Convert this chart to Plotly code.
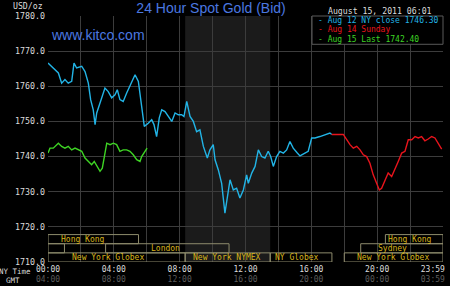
import plotly.graph_objects as go

# ---- data (hours after 00:00 NY time, USD/oz) ----
aug12_t = [0.0, 0.32, 0.63, 0.83, 1.03, 1.23, 1.44, 1.58, 1.74, 2.05, 2.25, 2.45, 2.59, 2.75, 2.86, 2.96,
           3.16, 3.46, 3.66, 3.87, 4.07, 4.21, 4.37, 4.57, 4.78, 5.02, 5.29, 5.49, 5.63, 5.75, 5.85, 6.09,
           6.30, 6.44, 6.60, 6.76, 6.91, 7.11, 7.31, 7.52, 7.72, 7.92, 8.12, 8.26, 8.43, 8.63, 8.83, 9.03,
           9.23, 9.44, 9.68, 9.84, 10.04, 10.15, 10.35, 10.55, 10.75, 10.89, 11.06, 11.26, 11.46, 11.66,
           11.87, 12.07, 12.17, 12.38, 12.58, 12.78, 12.98, 13.18, 13.38, 13.53, 13.69, 13.89, 14.09, 14.30,
           14.50, 14.70, 14.90, 15.15, 15.31, 15.61, 15.81, 16.02, 16.22, 16.52, 16.83, 17.13, 17.24]
aug12_v = [1766.6, 1765.2, 1763.8, 1760.9, 1761.9, 1760.9, 1761.4, 1766.6, 1765.2, 1765.7, 1764.2, 1760.9,
           1756.2, 1753.3, 1749.1, 1752.4, 1755.2, 1759.5, 1758.5, 1756.7, 1757.6, 1759.0, 1756.2, 1755.7,
           1758.1, 1760.5, 1763.3, 1761.4, 1756.2, 1751.0, 1748.6, 1749.5, 1750.5, 1749.1, 1745.7, 1751.0,
           1753.3, 1752.8, 1751.4, 1750.0, 1752.4, 1751.9, 1751.9, 1751.4, 1755.7, 1751.4, 1750.0, 1747.1,
           1747.6, 1742.9, 1739.6, 1741.9, 1743.4, 1739.1, 1736.2, 1732.4, 1723.9, 1727.7, 1733.4, 1730.5,
           1731.0, 1728.2, 1730.5, 1734.8, 1732.4, 1735.3, 1737.2, 1741.9, 1740.0, 1739.6, 1741.5, 1740.0,
           1737.2, 1740.0, 1741.5, 1741.0, 1741.9, 1744.3, 1742.4, 1741.0, 1740.2, 1741.0, 1741.5, 1745.3,
           1745.3, 1745.7, 1746.2, 1746.7, 1746.3]

aug14_t = [17.24, 17.94, 18.15, 18.35, 18.55, 18.76, 18.96, 19.16, 19.36, 19.56, 19.76, 19.97, 20.13, 20.27,
           20.47, 20.67, 20.88, 21.08, 21.28, 21.49, 21.69, 21.89, 22.10, 22.30, 22.50, 22.70, 22.90, 23.10,
           23.31, 23.51, 23.71, 23.92]
aug14_v = [1746.3, 1746.3, 1744.8, 1743.4, 1742.4, 1742.9, 1741.9, 1740.5, 1740.0, 1738.1, 1734.8, 1732.4,
           1730.5, 1731.0, 1733.4, 1735.3, 1734.3, 1736.7, 1738.6, 1741.0, 1741.5, 1744.8, 1744.8, 1745.7,
           1745.3, 1745.7, 1744.5, 1745.0, 1745.7, 1745.3, 1743.8, 1742.1]

aug15_t = [0.0, 0.12, 0.32, 0.63, 0.83, 1.03, 1.23, 1.44, 1.64, 1.84, 2.05, 2.25, 2.45, 2.65, 2.81, 3.02,
           3.16, 3.30, 3.46, 3.57, 3.77, 3.97, 4.17, 4.37, 4.57, 4.78, 4.98, 5.18, 5.39, 5.59, 5.69, 5.85, 6.02]
aug15_v = [1741.0, 1742.4, 1742.4, 1743.8, 1742.9, 1742.4, 1742.9, 1741.9, 1742.4, 1741.9, 1741.5, 1739.6,
           1738.6, 1737.7, 1738.6, 1736.7, 1735.8, 1736.7, 1741.0, 1743.8, 1743.4, 1743.8, 1743.4, 1741.5,
           1741.9, 1741.9, 1741.5, 1740.5, 1739.1, 1738.6, 1740.0, 1741.0, 1742.4]

series_names = ["Aug 12 NY close 1746.30", "Aug 14 Sunday", "Aug 15 Last 1742.40"]
series_colors = ["#22b4e6", "#e8141c", "#3ed424"]

# trading sessions: name, start hour, end hour, row (0 = bottom), label hour
sess_names = ["Hong Kong", "", "London", "New York Globex", "New York NYMEX", "NY Globex",
              "New York Globex", "Sydney", "Hong Kong"]
sess_start = [0.0, 0.0, 3.5, 0.0, 8.333, 13.5, 18.0, 19.0, 20.5]
sess_end = [5.5, 1.0, 11.0, 8.333, 13.5, 17.25, 24.0, 24.0, 24.0]
sess_row = [2, 1, 1, 0, 0, 0, 0, 1, 2]
sess_label_x = [2.13, None, 7.15, 3.65, 10.87, 15.13, 20.96, 20.96, 22.0]

ny_ticks = [0, 4, 8, 12, 16, 20, 23.38]
ny_labels = ["00:00", "04:00", "08:00", "12:00", "16:00", "20:00", "23:59"]
gmt_labels = ["04:00", "08:00", "12:00", "16:00", "20:00", "00:00", "03:59"]

nymex_start, nymex_end = 8.333, 13.5
y_min, y_max = 1710, 1780

MONO = "DejaVu Sans Mono"
TXT = "#dcdcdc"
fig = go.Figure()
for t, v, n, c in zip([aug12_t, aug14_t, aug15_t], [aug12_v, aug14_v, aug15_v], series_names, series_colors):
    fig.add_trace(go.Scatter(x=t, y=v, mode="lines", name=n, line=dict(color=c, width=1.4),
                             showlegend=False, xaxis="x", yaxis="y"))
# invisible trace carrying the label axis
fig.add_trace(go.Scatter(x=[0, 24], y=[y_min, y_min], mode="lines", line=dict(width=0),
                         showlegend=False, hoverinfo="skip", xaxis="x2", yaxis="y"))

shapes = [dict(type="rect", xref="x", yref="paper", x0=nymex_start, x1=nymex_end, y0=0, y1=1,
               fillcolor="#1b1b1b", line=dict(width=0), layer="below")]
annotations = []
row_h = 2.6
for n, s, e, r, lx in zip(sess_names, sess_start, sess_end, sess_row, sess_label_x):
    y0 = y_min + r * row_h
    shapes.append(dict(type="rect", xref="x", yref="y", x0=s, x1=e, y0=y0, y1=y0 + row_h,
                       line=dict(color="#8e8b6c", width=1), fillcolor="rgba(0,0,0,0)", layer="above"))
    if n:
        annotations.append(dict(x=lx, y=y0 + row_h / 2, xref="x", yref="y", text=n, showarrow=False,
                                font=dict(family=MONO, size=8, color="#d8b41c"),
                                xanchor="center", yanchor="middle"))

# legend box
shapes.append(dict(type="rect", xref="paper", yref="paper", x0=0.6684, x1=1.0, y0=0.885, y1=1.0,
                   fillcolor="black", line=dict(color="#5a5a5a", width=1), layer="above"))
for i, (n, c) in enumerate(zip(series_names, series_colors)):
    annotations.append(dict(x=0.6777, y=0.9797 - i * 0.0366, xref="paper", yref="paper",
                            text="-&nbsp;" + n, showarrow=False, xanchor="left", yanchor="middle",
                            font=dict(family=MONO, size=8, color=c)))

annotations += [
    dict(x=-0.0076, y=1.0407, xref="paper", yref="paper", text="USD/oz", showarrow=False,
         xanchor="right", yanchor="middle", font=dict(family=MONO, size=8.2, color=TXT)),
    dict(x=0.977, y=1.0203, xref="paper", yref="paper", text="August 15, 2011 06:01", showarrow=False,
         xanchor="right", yanchor="middle", font=dict(family=MONO, size=8.2, color=TXT)),
    dict(x=0.0025, y=0.9228, xref="paper", yref="paper", text="www.kitco.com", showarrow=False,
         xanchor="left", yanchor="middle", font=dict(family="Liberation Sans", size=14, color="#4b78e0")),
    dict(x=-0.038, y=-0.0366, xref="paper", yref="paper", text="NY Time", showarrow=False,
         xanchor="right", yanchor="middle", font=dict(family=MONO, size=7.5, color=TXT)),
    dict(x=-0.0658, y=-0.0772, xref="paper", yref="paper", text="GMT", showarrow=False,
         xanchor="right", yanchor="middle", font=dict(family=MONO, size=7.5, color=TXT)),
]

ticktext = [f"{a}<br><span style='color:#5c5c5c'>{b}</span>" for a, b in zip(ny_labels, gmt_labels)]

fig.update_layout(
    width=450, height=286,
    margin=dict(l=48, r=7, t=16, b=24, autoexpand=False),
    paper_bgcolor="black", plot_bgcolor="black",
    title=dict(text="24 Hour Spot Gold (Bid)", x=0.469, xanchor="center", y=0.972, yanchor="middle",
               font=dict(family="Liberation Sans", size=14, color="#4b78e0")),
    xaxis=dict(range=[0, 24], dtick=2, tick0=0, showgrid=True, gridcolor="#3c3c3c", gridwidth=1,
               showticklabels=False, zeroline=False, showline=False, ticks="", automargin=False),
    xaxis2=dict(range=[0, 24], overlaying="x", side="bottom", anchor="y", showgrid=False,
                tickmode="array", tickvals=ny_ticks, ticktext=ticktext, ticks="", zeroline=False,
                automargin=False, ticklabelstandoff=1,
                tickfont=dict(family=MONO, size=8, color=TXT)),
    yaxis=dict(range=[y_min, y_max], dtick=10, tick0=1710, tickformat=".1f", showgrid=True,
               gridcolor="#3c3c3c", zeroline=False, showline=False, ticks="", automargin=False,
               tickfont=dict(family=MONO, size=8.3, color=TXT), ticklabelstandoff=2),
    shapes=shapes, annotations=annotations,
)

fig.write_html("out.html")
